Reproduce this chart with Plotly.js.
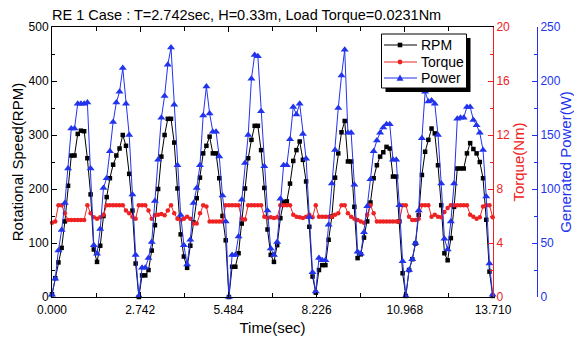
<!DOCTYPE html>
<html><head><meta charset="utf-8">
<script src="https://cdn.plot.ly/plotly-3.0.1.min.js"></script>
<style>html,body{margin:0;padding:0;background:#fff}#chart{width:574px;height:341px}</style>
</head><body><div id="chart"></div>
<script>
const time = [0,0.1,0.2,0.3,0.4,0.5,0.6,0.7,0.8,0.9,1.0,1.1,1.2,1.3,1.4,1.5,1.6,1.7,1.8,1.9,
2.0,2.1,2.2,2.3,2.4,2.5,2.6,2.7,2.8,2.9,3.0,3.1,3.2,3.3,3.4,3.5,3.6,3.7,3.8,3.9,
4.0,4.1,4.2,4.3,4.4,4.5,4.6,4.7,4.8,4.9,5.0,5.1,5.2,5.3,5.4,5.5,5.6,5.7,5.8,5.9,
6.0,6.1,6.2,6.3,6.4,6.5,6.6,6.7,6.8,6.9,7.0,7.1,7.2,7.3,7.4,7.5,7.6,7.7,7.8,7.9,
8.0,8.1,8.2,8.3,8.4,8.5,8.6,8.7,8.8,8.9,9.0,9.1,9.2,9.3,9.4,9.5,9.6,9.7,9.8,9.9,
10.0,10.1,10.2,10.3,10.4,10.5,10.6,10.7,10.8,10.9,11.0,11.1,11.2,11.3,11.4,11.5,11.6,11.7,11.8,11.9,
12.0,12.1,12.2,12.3,12.4,12.5,12.6,12.7,12.8,12.9,13.0,13.1,13.2,13.3,13.4,13.5,13.6,13.7];

const rpm = [5,35,64,91,140,206,262,262,302,308,307,257,190,88,65,
95,150,185,220,245,262,275,300,280,228,160,62,0,
40,40,50,86,133,200,260,300,330,330,286,201,116,75,54,
95,138,183,221,266,280,297,266,266,220,150,105,0,
56,56,81,136,201,257,291,317,317,272,202,125,78,65,
96,146,176,177,210,252,272,288,254,214,130,38,8,
50,59,59,106,149,221,266,305,326,251,251,167,72,79,
110,140,175,220,244,260,268,278,275,223,223,140,44,2,
50,70,99,152,226,269,291,312,303,244,170,81,68,
109,167,238,238,238,266,285,274,266,250,220,143,47,2];

const torque = [5.5,5.6,6.8,6.8,6.2,5.7,5.7,5.7,5.7,5.7,5.7,6.8,6.2,5.9,5.8,
5.9,6.1,6.8,6.8,6.8,6.8,6.8,6.8,6.4,6.2,5.95,5.8,6.8,
6.8,6.8,6.4,5.8,6.05,6.1,6.15,6.05,6.4,6.8,6.2,5.8,5.7,5.8,5.95,
5.8,5.45,5.45,6.2,6.8,6.7,5.6,5.6,5.6,5.6,5.6,6.8,6.8,
6.8,6.8,6.8,5.8,5.75,6.8,6.8,6.8,6.8,6.8,5.95,5.85,5.9,5.85,
5.9,6.8,6.8,6.8,6.8,6.1,5.95,5.9,5.85,5.95,6.1,5.9,6.8,
5.95,5.95,5.95,5.95,5.95,6.1,6.2,6.8,6.8,6.2,5.95,5.8,5.7,5.6,
5.5,6.1,6.8,6.2,5.6,5.6,5.6,5.6,5.6,5.6,5.6,5.6,6.8,6.8,
5.95,5.7,5.7,5.8,6.8,6.8,6.8,5.95,6.1,5.95,5.9,6.3,6.6,
6.8,6.8,6.8,6.8,6.8,6.8,6.1,5.95,5.8,5.9,6.7,6.8,6.8,5.9];

const power = [2,17,43,62,87,119,156,156,179,179,179,180,119,48,40,
63,101,110,135,162,180,190,212,179,150,95,39,1,
27,27,36,51,89,127,166,186,215,231,178,122,76,48,30,
53,87,101,122,168,195,170,153,153,130,94,70,0,
39,39,56,90,124,150,202,224,223,172,121,80,45,39,
51,91,122,122,146,176,169,179,151,128,74,23,5,
36,34,34,67,105,136,175,205,229,152,152,104,42,40,
60,84,109,135,145,152,157,160,160,127,127,85,33,1,
25,35,50,80,147,190,181,182,179,150,105,54,44,
70,105,165,166,166,176,176,164,159,152,136,93,31,2];

const seriesNames = ['RPM', 'Torque', 'Power'];
const xTickVals = [0, 2.742, 5.484, 8.226, 10.968, 13.71];
const xTickText = ['0.000', '2.742', '5.484', '8.226', '10.968', '13.710'];
const xMinorVals = [1.371, 4.113, 6.855, 9.597, 12.339];
const chartTitle = 'RE 1 Case : T=2.742sec, H=0.33m, Load Torque=0.0231Nm';

const FONT = 'Liberation Sans, Arial, Helvetica, sans-serif';
const BLACK = '#000000', RED = '#ee2222', BLUE = '#2233ee';
const seriesColors = [BLACK, RED, BLUE];

// page geometry (plot area in pixels)
const W = 574, H = 341, ML = 52, MR = 30, MT = 27, MB = 44;
const PW = W - ML - MR, PH = H - MT - MB;
const px2x = p => (p - ML) / PW;
const px2y = p => 1 - (p - MT) / PH;

const traces = [
  {x: time, y: rpm, name: seriesNames[0], type: 'scatter', mode: 'lines+markers', yaxis: 'y',
   line: {color: BLACK, width: 1}, marker: {symbol: 'square', size: 4.5, color: BLACK}, cliponaxis: false},
  {x: time, y: torque, name: seriesNames[1], type: 'scatter', mode: 'lines+markers', yaxis: 'y2',
   line: {color: RED, width: 1}, marker: {symbol: 'circle', size: 4.5, color: RED}, cliponaxis: false},
  {x: time, y: power, name: seriesNames[2], type: 'scatter', mode: 'lines+markers', yaxis: 'y3',
   line: {color: BLUE, width: 1}, marker: {symbol: 'triangle-up', size: 7, color: BLUE}, cliponaxis: false}
];

// custom legend (box with drop shadow)
const legBox = {x0: 381.5, x1: 466.5, y0: 34, y1: 88};
const legRows = [45, 62, 78];
const shapes = [
  {type: 'rect', xref: 'paper', yref: 'paper', x0: px2x(legBox.x0 + 4), x1: px2x(legBox.x1 + 4),
   y0: px2y(legBox.y1 + 4), y1: px2y(legBox.y0 + 4), fillcolor: BLACK, line: {width: 0}, layer: 'above'},
  {type: 'rect', xref: 'paper', yref: 'paper', x0: px2x(legBox.x0), x1: px2x(legBox.x1),
   y0: px2y(legBox.y1), y1: px2y(legBox.y0), fillcolor: '#ffffff', line: {color: BLACK, width: 1}, layer: 'above'}
];
const annotations = [];
seriesNames.forEach((name, k) => {
  const cy = legRows[k], c = seriesColors[k], mx = 400;
  shapes.push({type: 'line', xref: 'paper', yref: 'paper', x0: px2x(384), x1: px2x(417),
               y0: px2y(cy), y1: px2y(cy), line: {color: c, width: 1}, layer: 'above'});
  if (k === 0) {
    shapes.push({type: 'rect', xref: 'paper', yref: 'paper', x0: px2x(mx - 2.3), x1: px2x(mx + 2.3),
                 y0: px2y(cy + 2.3), y1: px2y(cy - 2.3), fillcolor: c, line: {width: 0}, layer: 'above'});
  } else if (k === 1) {
    shapes.push({type: 'circle', xref: 'paper', yref: 'paper', x0: px2x(mx - 2.4), x1: px2x(mx + 2.4),
                 y0: px2y(cy + 2.4), y1: px2y(cy - 2.4), fillcolor: c, line: {width: 0}, layer: 'above'});
  } else {
    shapes.push({type: 'path', xref: 'paper', yref: 'paper',
                 path: 'M ' + px2x(mx - 3.5) + ' ' + px2y(cy + 2.8) + ' L ' + px2x(mx + 3.5) + ' ' + px2y(cy + 2.8) +
                       ' L ' + px2x(mx) + ' ' + px2y(cy - 3.5) + ' Z',
                 fillcolor: c, line: {width: 0}, layer: 'above'});
  }
  annotations.push({xref: 'paper', yref: 'paper', x: px2x(419), y: px2y(cy), xanchor: 'left', yanchor: 'middle',
                    text: name, showarrow: false, font: {size: 14, color: BLACK, family: FONT}});
});

const layout = {
  width: W, height: H,
  margin: {l: ML, r: MR, t: MT, b: MB},
  paper_bgcolor: '#ffffff', plot_bgcolor: '#ffffff',
  font: {family: FONT, color: BLACK},
  title: {text: chartTitle, x: 52/574, xref: 'container', xanchor: 'left',
          y: 0.955, yref: 'container', yanchor: 'middle', font: {size: 14.5, color: BLACK, family: FONT}},
  showlegend: false,
  xaxis: {domain: [0, px2x(493)], range: [0, 13.71], tickmode: 'array', tickvals: xTickVals, ticktext: xTickText,
          ticks: 'inside', ticklen: 5, tickcolor: BLACK, showline: true, linecolor: BLACK, linewidth: 1,
          mirror: 'ticks', showgrid: false, zeroline: false, ticklabelstandoff: 2,
          minor: {tickmode: 'array', tickvals: xMinorVals, ticks: 'inside', ticklen: 4, tickcolor: BLACK},
          tickfont: {size: 12, color: BLACK}, title: {text: 'Time(sec)', font: {size: 15, color: BLACK}, standoff: 6}},
  yaxis: {range: [0, 500], tick0: 0, dtick: 100, ticks: 'inside', ticklen: 5, tickcolor: BLACK,
          minor: {dtick: 50, ticks: 'inside', ticklen: 3, tickcolor: BLACK},
          showline: true, linecolor: BLACK, linewidth: 1, showgrid: false, zeroline: false,
          tickfont: {size: 12, color: BLACK},
          title: {text: 'Rotational Speed(RPM)', font: {size: 15, color: BLACK}, standoff: 1}},
  yaxis2: {overlaying: 'y', side: 'right', anchor: 'x', range: [0, 20], tick0: 0, dtick: 4,
           ticks: 'inside', ticklen: 5, tickcolor: RED,
           minor: {dtick: 2, ticks: 'inside', ticklen: 3, tickcolor: RED},
           showline: true, linecolor: RED, linewidth: 1, showgrid: false, zeroline: false,
           tickfont: {size: 12, color: RED},
           title: {text: 'Torque(Nm)', font: {size: 15, color: RED}, standoff: 0}},
  yaxis3: {overlaying: 'y', side: 'right', anchor: 'free', position: px2x(537), range: [0, 250], tick0: 0, dtick: 50,
           ticks: 'inside', ticklen: 5, tickcolor: BLUE,
           minor: {dtick: 25, ticks: 'inside', ticklen: 3, tickcolor: BLUE},
           showline: true, linecolor: BLUE, linewidth: 1, showgrid: false, zeroline: false,
           tickfont: {size: 12, color: BLUE}, title: {text: 'Generated Power(W)', font: {size: 15, color: BLUE}}},
  shapes: shapes,
  annotations: annotations
};

Plotly.newPlot('chart', traces, layout, {displayModeBar: false, staticPlot: true});
</script>
</body></html>
